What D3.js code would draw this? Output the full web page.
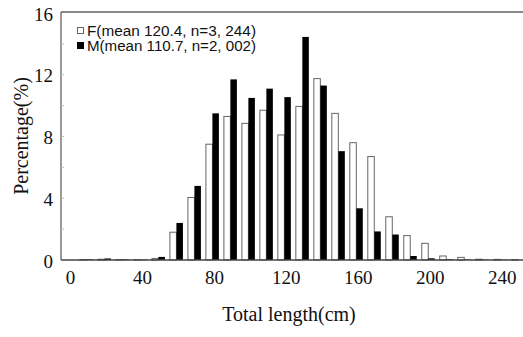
<!DOCTYPE html>
<html>
<head>
<meta charset="utf-8">
<script src="https://cdn.jsdelivr.net/npm/d3@7"></script>
<style>
  body { margin: 0; background: #fff; }
  svg { display: block; }
</style>
</head>
<body>
<div id="chart"></div>
<script>
// bins of 10 cm, labelled by their upper limit
let bins = [10, 20, 30, 40, 50, 60, 70, 80, 90, 100, 110, 120, 130, 140, 150, 160, 170, 180, 190, 200, 210, 220, 230, 240, 250];
let female = [0.03, 0.05, 0.03, 0.02, 0.1, 1.8, 4.05, 7.5, 9.3, 8.85, 9.7, 8.1, 9.95, 11.75, 9.5, 7.6, 6.7, 2.8, 1.58, 1.08, 0.26, 0.17, 0.05, 0.04, 0.03];
let male = [0.04, 0.1, 0.04, 0.03, 0.2, 2.4, 4.8, 9.5, 11.7, 10.5, 11.1, 10.55, 14.45, 11.3, 7.05, 3.35, 1.85, 1.65, 0.26, 0.11, 0.05, 0.03, 0.02, 0.02, 0.0];
let xTicks = [0, 40, 80, 120, 160, 200, 240];
let yTicks = [0, 4, 8, 12, 16];
let legendLabels = ['F(mean 120.4, n=3, 244)', 'M(mean 110.7, n=2, 002)'];

let width = 523;
let height = 337;

let svg = d3.select('#chart')
  .append('svg')
  .attr('width', width)
  .attr('height', height);

let x = d3.scaleLinear().domain([0, 240]).range([70, 501.7]);
let y = d3.scaleLinear().domain([0, 16]).range([260, 13]);

let left = 61;
let right = 523;
let barW = 6.5;

// bars
let g = svg.append('g');
g.selectAll('rect.f')
  .data(bins)
  .enter()
  .append('rect')
  .attr('class', 'f')
  .attr('x', (d) => x(d) - 1.5 - barW)
  .attr('y', (d, i) => y(female[i]))
  .attr('width', barW)
  .attr('height', (d, i) => y(0) - y(female[i]))
  .attr('fill', '#fff')
  .attr('stroke', '#666')
  .attr('stroke-width', 1);

g.selectAll('rect.m')
  .data(bins)
  .enter()
  .append('rect')
  .attr('class', 'm')
  .attr('x', (d) => x(d) - 1.5)
  .attr('y', (d, i) => y(male[i]))
  .attr('width', barW)
  .attr('height', (d, i) => y(0) - y(male[i]))
  .attr('fill', '#000');

// frame
svg.append('line')
  .attr('x1', left).attr('x2', right)
  .attr('y1', y(16) - 1).attr('y2', y(16) - 1)
  .attr('stroke', '#888').attr('stroke-width', 2);
svg.append('line')
  .attr('x1', left).attr('x2', left)
  .attr('y1', y(16) - 1).attr('y2', y(0))
  .attr('stroke', '#555').attr('stroke-width', 1.2);
svg.append('line')
  .attr('x1', left).attr('x2', right)
  .attr('y1', y(0)).attr('y2', y(0))
  .attr('stroke', '#444').attr('stroke-width', 1.5);

// minor ticks on y
svg.selectAll('line.ytick')
  .data(d3.range(2, 16, 2))
  .enter()
  .append('line')
  .attr('x1', left).attr('x2', left + 3)
  .attr('y1', (d) => y(d)).attr('y2', (d) => y(d))
  .attr('stroke', '#bbb');

// axes labels
let yAxis = d3.axisLeft(y).tickValues(yTicks).tickSize(0).tickPadding(0);
svg.append('g')
  .attr('transform', 'translate(53,1)')
  .call(yAxis)
  .call((a) => a.select('.domain').remove())
  .selectAll('text')
  .attr('font-family', '"Liberation Serif", "Times New Roman", serif')
  .attr('font-size', 19)
  .attr('fill', '#111');

let xAxis = d3.axisBottom(x).tickValues(xTicks).tickSize(0).tickPadding(0);
svg.append('g')
  .attr('transform', 'translate(0,270)')
  .call(xAxis)
  .call((a) => a.select('.domain').remove())
  .selectAll('text')
  .attr('font-family', '"Liberation Serif", "Times New Roman", serif')
  .attr('font-size', 19)
  .attr('fill', '#111');

// titles
svg.append('text')
  .attr('x', 289)
  .attr('y', 321)
  .attr('text-anchor', 'middle')
  .attr('font-family', '"Liberation Serif", "Times New Roman", serif')
  .attr('font-size', 20)
  .attr('fill', '#111')
  .text('Total length(cm)');

svg.append('text')
  .attr('transform', 'translate(28,136) rotate(-90)')
  .attr('text-anchor', 'middle')
  .attr('font-family', '"Liberation Serif", "Times New Roman", serif')
  .attr('font-size', 20)
  .attr('fill', '#111')
  .text('Percentage(%)');

// legend
let legend = svg.append('g');
legend.append('rect')
  .attr('x', 77.5).attr('y', 27.5).attr('width', 6).attr('height', 6)
  .attr('fill', '#fff').attr('stroke', '#666');
legend.append('rect')
  .attr('x', 77).attr('y', 42).attr('width', 7).attr('height', 7)
  .attr('fill', '#000');
legend.selectAll('text')
  .data(legendLabels)
  .enter()
  .append('text')
  .attr('x', 87)
  .attr('y', (d, i) => 35.5 + i * 15)
  .attr('font-family', '"Liberation Sans", Arial, sans-serif')
  .attr('font-size', 14)
  .attr('textLength', 169)
  .attr('lengthAdjust', 'spacingAndGlyphs')
  .attr('fill', '#111')
  .text((d) => d);
</script>
</body>
</html>
